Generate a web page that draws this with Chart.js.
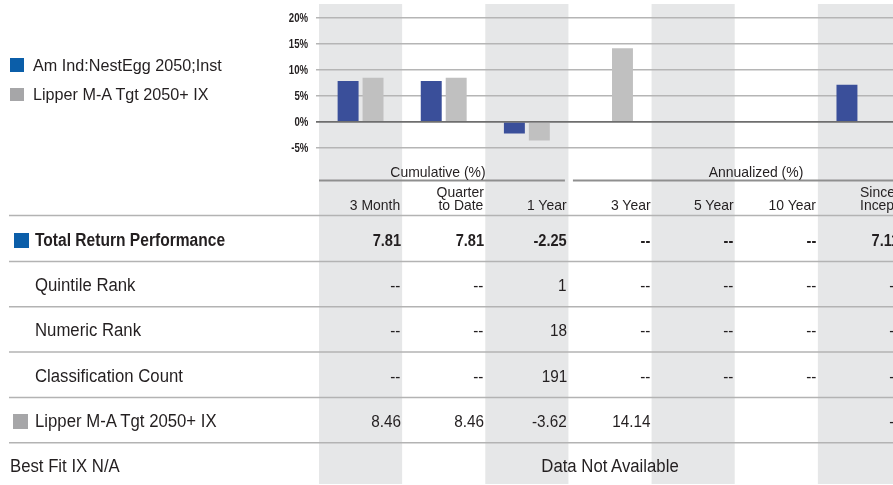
<!DOCTYPE html>
<html><head><meta charset="utf-8">
<script src="https://cdn.jsdelivr.net/npm/chart.js@4.4.1/dist/chart.umd.min.js"></script>
<style>
html,body{margin:0;padding:0;width:893px;height:485px;overflow:hidden;background:#fff;}
#wrap{position:relative;width:893px;height:485px;overflow:hidden;}
#cv{position:absolute;left:0;top:0;}
.t{position:absolute;white-space:nowrap;font-family:"Liberation Sans Narrow","Liberation Sans",Arial,sans-serif;color:#231f20;line-height:1;}
.sq{position:absolute;}
</style></head><body>
<div id="wrap"><canvas id="cv" width="901" height="485"></canvas></div>
<script>
// ---- data ----
const categories = ['3 Month','Quarter to Date','1 Year','3 Year','5 Year','10 Year','Since Inception'];
const headerLabels = [['3 Month'],['Quarter','to Date'],['1 Year'],['3 Year'],['5 Year'],['10 Year'],['Since','Inception']];
const groupLabels = ['Cumulative (%)','Annualized (%)'];
const fundName = 'Am Ind:NestEgg 2050;Inst';
const indexName = 'Lipper M-A Tgt 2050+ IX';
const fundReturns = [7.81, 7.81, -2.25, null, null, null, 7.11];
const indexReturns = [8.46, 8.46, -3.62, 14.14, null, null, null];
const quintileRank = ['--','--','1','--','--','--','--'];
const numericRank = ['--','--','18','--','--','--','--'];
const classificationCount = ['--','--','191','--','--','--','--'];
const indexRow = ['8.46','8.46','-3.62','14.14','','','--'];
const rowLabels = ['Total Return Performance','Quintile Rank','Numeric Rank','Classification Count', indexName, 'Best Fit IX N/A'];
const bestFitText = 'Data Not Available';
const yTicks = [-5, 0, 5, 10, 15, 20];

// ---- style ----
const BLUE_BAR = '#3a4f9a', GRAY_BAR = '#c0c0c0', BLUE_SQ = '#0b5ea9', GRAY_SQ = '#a6a6a8';
const BAND = '#e6e7e8', TXT = '#231f20';
const ROW_Y = [240, 285, 330, 376, 421, 466];
const LINE_Y = [215.5, 261.5, 306.8, 352, 397.5, 442.8];

const bandPlugin = {
  id: 'bands',
  beforeDraw(chart) {
    const {ctx, scales: {x}} = chart;
    const n = categories.length, cw = x.width / n;
    ctx.save();
    ctx.fillStyle = BAND;
    for (let i = 0; i < n; i += 2) {
      const l = x.getPixelForValue(i) - cw / 2;
      ctx.fillRect(l, 4, cw, 480);
    }
    ctx.restore();
  },
  afterDatasetsDraw(chart) {
    const {ctx, scales: {x, y}} = chart;
    const y0 = y.getPixelForValue(0);
    ctx.save();
    ctx.strokeStyle = '#6e6e6e'; ctx.lineWidth = 1.5;
    ctx.beginPath(); ctx.moveTo(x.left - 3, y0); ctx.lineTo(x.right, y0); ctx.stroke();
    ctx.restore();
  },
  afterDraw(chart) {
    const {ctx, scales: {x}} = chart;
    const n = categories.length, cw = x.width / n;
    const colL = i => x.getPixelForValue(i) - cw / 2;
    ctx.save();
    ctx.strokeStyle = '#8f8f8f'; ctx.lineWidth = 2;
    ctx.beginPath(); ctx.moveTo(colL(0), 180.5); ctx.lineTo(colL(3) - 3.5, 180.5); ctx.stroke();
    ctx.beginPath(); ctx.moveTo(colL(3) + 4.5, 180.5); ctx.lineTo(chart.width, 180.5); ctx.stroke();
    ctx.strokeStyle = '#b3b3b3'; ctx.lineWidth = 1.5;
    LINE_Y.forEach(ly => { ctx.beginPath(); ctx.moveTo(9, ly); ctx.lineTo(chart.width, ly); ctx.stroke(); });
    ctx.restore();
  }
};

const chart = new Chart(document.getElementById('cv'), {
  type: 'bar',
  data: {
    labels: categories,
    datasets: [
      {label: fundName, data: fundReturns, backgroundColor: BLUE_BAR, categoryPercentage: 0.6, barPercentage: 0.84},
      {label: indexName, data: indexReturns, backgroundColor: GRAY_BAR, categoryPercentage: 0.6, barPercentage: 0.84}
    ]
  },
  options: {
    responsive: false, animation: false, devicePixelRatio: 1,
    layout: {padding: {top: 17.7, bottom: 337.3, left: 0, right: 0}},
    plugins: {legend: {display: false}, tooltip: {enabled: false}},
    scales: {
      x: {display: false, offset: true, grid: {display: false}},
      y: {
        min: -5, max: 20,
        afterBuildTicks: s => { s.ticks = yTicks.map(v => ({value: v})); },
        afterFit: s => { s.width = 319; },
        border: {display: false},
        grid: {
          color: c => (c.tick && c.tick.value === 0) ? '#707070' : '#b5b5b5',
          lineWidth: 1.5, drawTicks: true, tickLength: 3
        },
        ticks: {display: false}
      }
    }
  },
  plugins: [bandPlugin]
});

// ---- HTML text overlay (positions derived from chart scales) ----
const wrap = document.getElementById('wrap');
const WW = 893;
function txt(str, x, yc, align, size, bold, sc) {
  const d = document.createElement('div');
  d.className = 't';
  d.textContent = str;
  d.style.fontSize = size + 'px';
  if (bold) d.style.fontWeight = 'bold';
  d.style.top = (yc - 0.49 * size) + 'px';
  if (align === 'right') {
    d.style.right = (WW - x) + 'px';
    d.style.transformOrigin = 'right center';
    d.style.transform = 'scaleX(' + sc + ')';
  } else if (align === 'left') {
    d.style.left = x + 'px';
    d.style.transformOrigin = 'left center';
    d.style.transform = 'scaleX(' + sc + ')';
  } else {
    d.style.left = x + 'px';
    d.style.transformOrigin = 'center center';
    d.style.transform = 'translateX(-50%) scaleX(' + sc + ')';
  }
  wrap.appendChild(d);
  return d;
}
function sq(x, y, s, color) {
  const d = document.createElement('div');
  d.className = 'sq';
  d.style.left = x + 'px'; d.style.top = y + 'px';
  d.style.width = s + 'px'; d.style.height = s + 'px';
  d.style.background = color;
  wrap.appendChild(d);
}

const xs = chart.scales.x, ys = chart.scales.y;
const n = categories.length, cw = xs.width / n;
const colR = i => xs.getPixelForValue(i) + cw / 2 - 1.5;
const colL = i => xs.getPixelForValue(i) - cw / 2;
const colC = i => xs.getPixelForValue(i);

// y tick labels
yTicks.forEach(v => txt(v + '%', ys.right - 11, ys.getPixelForValue(v), 'right', 12, true, 0.8));

// legend
sq(10, 58, 13.5, BLUE_SQ); txt(fundName, 33, 65.5, 'left', 16.5, false, 0.98);
sq(10, 87.5, 13.5, GRAY_SQ); txt(indexName, 33, 94.5, 'left', 16.5, false, 0.98);

// group headers
txt(groupLabels[0], 437.5, 171, 'center', 15, false, 0.93);
txt(groupLabels[1], 755.5, 171, 'center', 15, false, 0.93);

// column headers
headerLabels.forEach((lines, i) => {
  const last = i === n - 1;
  const hx = last ? colL(i) + 42 : colR(i);
  const al = last ? 'left' : 'right';
  if (lines.length === 1) txt(lines[0], hx, 204.5, al, 15, false, 0.93);
  else { txt(lines[0], hx, 191, al, 15, false, 0.93); txt(lines[1], hx, 204.5, al, 15, false, 0.93); }
});

// row labels
sq(14, 233.3, 14.5, BLUE_SQ);
txt(rowLabels[0], 34.5, ROW_Y[0], 'left', 18, true, 0.865);
txt(rowLabels[1], 35, ROW_Y[1], 'left', 18, false, 0.93);
txt(rowLabels[2], 35, ROW_Y[2], 'left', 18, false, 0.93);
txt(rowLabels[3], 35, ROW_Y[3], 'left', 18, false, 0.93);
sq(13, 414, 14.5, GRAY_SQ);
txt(rowLabels[4], 35, ROW_Y[4], 'left', 18, false, 0.93);
txt(rowLabels[5], 10, ROW_Y[5], 'left', 18, false, 0.93);

// row values
const fmt = v => (v === null ? '--' : v.toFixed(2));
fundReturns.forEach((v, i) => txt(fmt(v), colR(i), ROW_Y[0], 'right', 17, true, 0.86));
[quintileRank, numericRank, classificationCount, indexRow].forEach((arr, r) => {
  arr.forEach((v, i) => { if (v !== '') txt(v, colR(i), ROW_Y[r + 1], 'right', 17, false, 0.9); });
});
txt(bestFitText, colC(3), ROW_Y[5], 'center', 18, false, 0.93);
</script>
</body></html>
